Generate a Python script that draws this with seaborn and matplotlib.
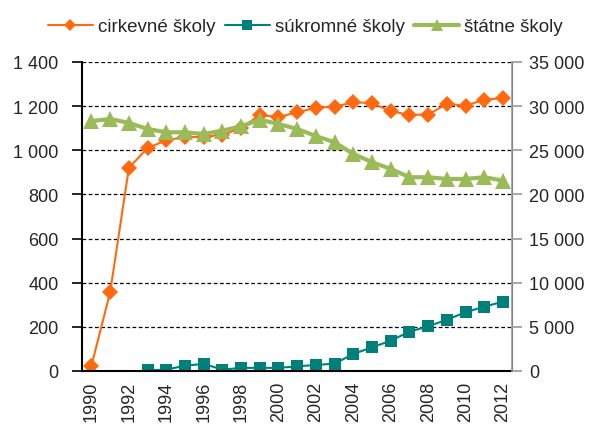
import matplotlib
matplotlib.use("Agg")
import matplotlib.pyplot as plt
import seaborn as sns
import numpy as np
import pandas as pd

years = list(range(1990, 2013))

# left axis
cirkevne = [24, 357, 920, 1010, 1045, 1060, 1060, 1070, 1100, 1160, 1150, 1172,
            1192, 1197, 1217, 1214, 1176, 1161, 1161, 1210, 1202, 1229, 1236]
sukromne = [None, None, None, 3, 6, 24, 32, 6, 14, 14, 14, 21,
            27, 33, 77, 107, 137, 178, 202, 232, 266, 291, 314]
# right axis
statne = [28300, 28540, 28090, 27410, 27030, 27030, 26840, 27220, 27710, 28460, 27970, 27410,
          26600, 25900, 24580, 23640, 22880, 21940, 21940, 21750, 21750, 21940, 21560]

labels = ["cirkevné školy", "súkromné školy", "štátne školy"]
colors = ["#FF6A10", "#00807A", "#9BBB59"]

sns.set_style("white")
plt.rcParams['font.family'] = ['Liberation Sans', 'DejaVu Sans']

df = pd.DataFrame({"idx": np.arange(len(years)), "year": years,
                   "cirkevne": cirkevne, "sukromne": sukromne, "statne": statne})

fig = plt.figure(figsize=(5.95, 4.31), dpi=100)
ax = fig.add_axes([0.138, 0.137, 0.723, 0.717])
ax2 = ax.twinx()

sns.lineplot(data=df, x="idx", y="cirkevne", ax=ax, color=colors[0], marker="D",
             markersize=8, markeredgewidth=0, linewidth=1.5, label=labels[0], legend=False)
sns.lineplot(data=df.dropna(subset=["sukromne"]), x="idx", y="sukromne", ax=ax, color=colors[1],
             marker="s", markersize=9, markeredgewidth=0, linewidth=1.5, label=labels[1], legend=False)
sns.lineplot(data=df, x="idx", y="statne", ax=ax2, color=colors[2], marker="^",
             markersize=11, markeredgewidth=0, linewidth=3, label=labels[2], legend=False)

ax.set_xlim(-0.5, len(years) - 0.5)
ax.set_ylim(0, 1400)
ax2.set_ylim(0, 35000)
ax.set_yticks(range(0, 1401, 200))
ax2.set_yticks(range(0, 35001, 5000))
fmt = lambda v: f"{int(v):,}".replace(",", " ")
txt = "#262626"
ax.set_yticklabels([fmt(v) for v in range(0, 1401, 200)], fontsize=13, color=txt)
ax2.set_yticklabels([fmt(v) for v in range(0, 35001, 5000)], fontsize=13, color=txt)

ax.set_xticks(np.arange(0, len(years), 2))
ax.set_xticklabels([str(y) for y in years[::2]], rotation=90, fontsize=13, color=txt)
ax.set_xticks(np.arange(-0.5, len(years), 1), minor=True)
ax.tick_params(axis="x", which="major", length=0, pad=7)
ax.tick_params(axis="x", which="minor", length=4.5, width=1.2, color="black")
ax.tick_params(axis="y", length=7, width=1.2, color="black", left=True, pad=10)
ax2.tick_params(axis="y", length=7, width=1.2, color="#999999", right=True, pad=5)

ax.set_xlabel("")
ax.set_ylabel("")
ax2.set_ylabel("")
ax.grid(axis="y", linestyle=(0, (3, 2)), color="black", linewidth=0.9)
ax.set_axisbelow(True)

for a in (ax, ax2):
    a.spines["top"].set_visible(False)
ax.spines["left"].set_color("black")
ax.spines["left"].set_linewidth(1.5)
ax.spines["bottom"].set_color("black")
ax.spines["bottom"].set_linewidth(1.5)
ax2.spines["left"].set_visible(False)
ax2.spines["bottom"].set_visible(False)
ax2.spines["right"].set_color("#999999")
ax2.spines["right"].set_linewidth(1.2)

handles = ax.get_lines()[:2] + ax2.get_lines()[:1]
fig.legend(handles, labels, loc="upper center", bbox_to_anchor=(0.513, 0.995), ncol=3,
           frameon=False, fontsize=13.5, handlelength=2.4, columnspacing=0.5,
           handletextpad=0.27, markerscale=0.8, labelcolor=txt)

fig.savefig("out.png", dpi=100)
